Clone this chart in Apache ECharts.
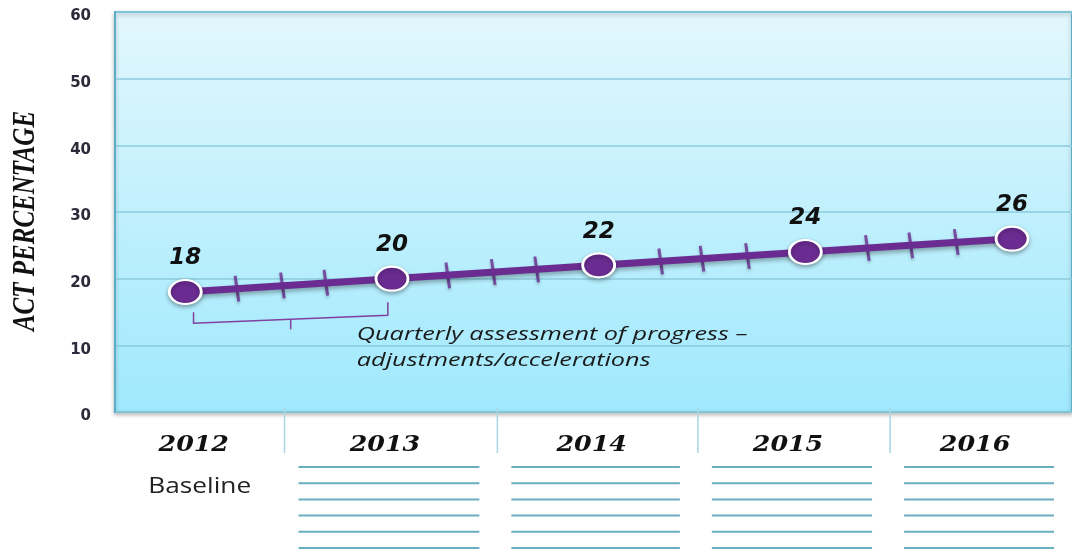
<!DOCTYPE html>
<html>
<head>
<meta charset="utf-8">
<script src="https://cdn.jsdelivr.net/npm/echarts@6/dist/echarts.min.js"></script>
<style>
  html, body { margin: 0; padding: 0; background: #fff; }
  #chart { width: 1072px; height: 550px; }
</style>
</head>
<body>
<div id="chart"></div>
<script>
// chart values
const years = [2012, 2013, 2014, 2015, 2016];
const actValues = [18, 20, 22, 24, 26];
// quarterly check marks along the line (x in years, y on the line)
const quarterX = [2012.25, 2012.47, 2012.68, 2013.27, 2013.49, 2013.70,
                  2014.30, 2014.50, 2014.72, 2015.30, 2015.51, 2015.73];
const quarterY = [18.5, 19.0, 19.4, 20.5, 21.0, 21.4,
                  22.6, 23.0, 23.4, 24.6, 25.0, 25.5];
const yTicks = [0, 10, 20, 30, 40, 50, 60];
// table under the chart: column edges (in years) and the text in each column
const tableEdges = [2011.66, 2012.48, 2013.51, 2014.48, 2015.41, 2016.29];
const tableNotes = ['Baseline', '', '', '', ''];
const noteText = ['Quarterly assessment of progress \u2013', 'adjustments/accelerations'];
const bracketFrom = [2012.04, 13.3];
const bracketTo = [2012.98, 14.5];

const purple = '#6a2c91';
const teal = '#5aaec5';

const chart = echarts.init(document.getElementById('chart'));

const lineData = years.map((y, i) => [y, actValues[i]]);
const tickData = quarterX.map((x, i) => [x, quarterY[i]]);
const tableData = years.map((y, i) => [tableEdges[i], tableEdges[i + 1], i]);

const option = {
  animation: false,
  grid: [
    {
      left: 115, top: 12, right: 0, height: 400,
      show: true,
      backgroundColor: new echarts.graphic.LinearGradient(0, 0, 0, 1, [
        { offset: 0, color: '#e3f7fd' },
        { offset: 1, color: '#9fe9fd' }
      ]),
      borderColor: teal,
      borderWidth: 2,
      shadowColor: 'rgba(0,0,0,0.25)',
      shadowBlur: 4,
      shadowOffsetY: 2
    },
    { left: 115, top: 412, right: 0, height: 138 }
  ],
  xAxis: [
    { type: 'value', gridIndex: 0, min: tableEdges[0], max: tableEdges[tableEdges.length - 1], show: false },
    { type: 'value', gridIndex: 1, min: tableEdges[0], max: tableEdges[tableEdges.length - 1], show: false }
  ],
  yAxis: [
    {
      type: 'value', gridIndex: 0, min: yTicks[0], max: yTicks[yTicks.length - 1], interval: 10,
      axisLine: { show: true, lineStyle: { color: teal, width: 2 } },
      axisTick: { show: false },
      axisLabel: {
        margin: 24, color: '#2a2a3a', verticalAlign: 'top', padding: [-3, 0, 0, 0],
        fontFamily: 'DejaVu Sans', fontWeight: 'bold', fontSize: 15
      },
      splitLine: { lineStyle: { color: '#8ccbdc', width: 1.5 } }
    },
    { type: 'value', gridIndex: 1, min: 0, max: 138, inverse: true, show: false }
  ],
  series: [
    {
      type: 'scatter',
      xAxisIndex: 0, yAxisIndex: 0,
      data: tickData,
      symbol: 'rect',
      symbolSize: [3, 26],
      symbolRotate: 8,
      itemStyle: { color: purple, shadowColor: 'rgba(0,0,0,0.3)', shadowBlur: 3, shadowOffsetY: 2 },
      z: 2,
      silent: true
    },
    {
      type: 'line',
      xAxisIndex: 0, yAxisIndex: 0,
      data: lineData,
      symbol: 'circle',
      symbolSize: [32, 24],
      lineStyle: { color: purple, width: 7, shadowColor: 'rgba(0,0,0,0.3)', shadowBlur: 4, shadowOffsetY: 3 },
      itemStyle: { color: purple, borderColor: '#ffffff', borderWidth: 2.5, shadowColor: 'rgba(0,0,0,0.3)', shadowBlur: 4, shadowOffsetY: 2 },
      label: {
        show: true, position: 'top', distance: 9,
        formatter: p => String(p.value[1]),
        color: '#111', fontFamily: 'DejaVu Sans', fontWeight: 'bold', fontStyle: 'italic', fontSize: 23
      },
      z: 3
    },
    {
      type: 'custom',
      xAxisIndex: 1, yAxisIndex: 1,
      data: tableData,
      silent: true,
      renderItem: (params, api) => {
        const x0 = api.coord([api.value(0), 0])[0];
        const x1 = api.coord([api.value(1), 0])[0];
        const top = params.coordSys.y;
        const idx = api.value(2);
        const children = [];
        if (idx > 0) {
          children.push({
            type: 'line',
            shape: { x1: x0, y1: top - 4, x2: x0, y2: top + 41 },
            style: { stroke: '#a9d6e2', lineWidth: 1.5 }
          });
        }
        children.push({
          type: 'text',
          x: (x0 + x1) / 2 - 6, y: top + 33, scaleX: 1.15,
          style: {
            text: String(years[idx]), align: 'center', verticalAlign: 'middle',
            fill: '#111', font: 'italic bold 22px "DejaVu Serif"'
          }
        });
        if (tableNotes[idx]) {
          children.push({
            type: 'text',
            x: (x0 + x1) / 2, y: top + 75, scaleX: 1.25,
            style: {
              text: tableNotes[idx], align: 'center', verticalAlign: 'middle',
              fill: '#222', font: '21px "Open Sans"'
            }
          });
        } else {
          for (let r = 0; r < 6; r++) {
            const yy = top + 55 + r * 16.2;
            children.push({
              type: 'line',
              shape: { x1: x0 + 14, y1: yy, x2: x1 - 18, y2: yy },
              style: { stroke: '#6aaec1', lineWidth: 2 }
            });
          }
        }
        return { type: 'group', children };
      }
    }
  ]
};

chart.setOption(option);

// annotation: bracket under the first year and its note
const pA = chart.convertToPixel({ gridIndex: 0 }, bracketFrom);
const pB = chart.convertToPixel({ gridIndex: 0 }, bracketTo);
const midX = (pA[0] + pB[0]) / 2;
const midY = (pA[1] + pB[1]) / 2;
const notePos = chart.convertToPixel({ gridIndex: 0 }, [2012.83, 13.5]);

chart.setOption({
  graphic: [
    {
      type: 'polyline',
      shape: {
        points: [
          [pA[0], pA[1] - 11],
          [pA[0], pA[1]],
          [pB[0], pB[1]],
          [pB[0], pB[1] - 13]
        ]
      },
      style: { stroke: '#8040a0', lineWidth: 1.5, fill: null },
      z: 10
    },
    {
      type: 'line',
      shape: { x1: midX, y1: midY, x2: midX, y2: midY + 10 },
      style: { stroke: '#8040a0', lineWidth: 1.5 },
      z: 10
    },
    {
      type: 'text',
      x: notePos[0], y: notePos[1], scaleX: 1.33,
      style: {
        text: noteText.join('\n'), fill: '#1a1a1a', lineHeight: 26,
        font: 'italic 19px "Open Sans"', verticalAlign: 'top'
      },
      z: 10
    },
    {
      type: 'text',
      x: 26, y: 221, rotation: Math.PI / 2, scaleY: 1.3,
      style: {
        text: 'ACT PERCENTAGE', align: 'center', verticalAlign: 'middle',
        fill: '#111', font: 'italic bold 25px "Liberation Serif"'
      },
      z: 10
    }
  ]
});
</script>
</body>
</html>
